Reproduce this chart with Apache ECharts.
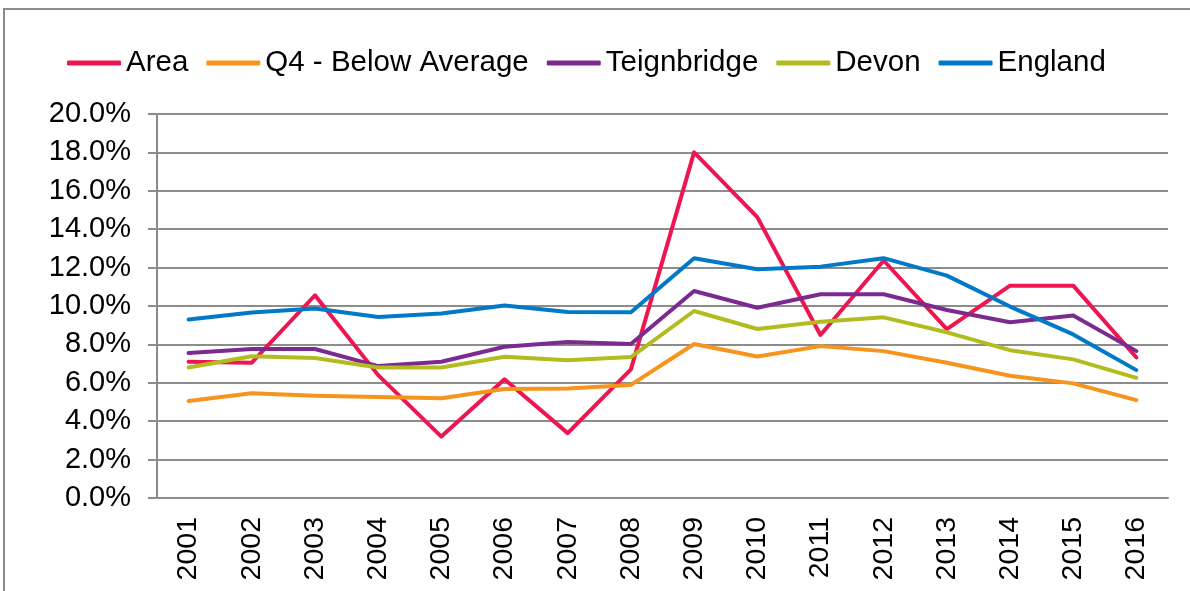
<!DOCTYPE html>
<html>
<head>
<meta charset="utf-8">
<script src="https://cdn.jsdelivr.net/npm/echarts@6/dist/echarts.min.js"></script>
<style>
  html, body { margin: 0; padding: 0; background: #fff; }
  #chart { width: 1190px; height: 591px; }
</style>
</head>
<body>
<div id="chart"></div>
<script>
var years = ['2001', '2002', '2003', '2004', '2005', '2006', '2007', '2008',
  '2009', '2010', '2011', '2012', '2013', '2014', '2015', '2016'];

// values in percent
var area = [7.1, 7.05, 10.56, 6.4, 3.2, 6.18, 3.38, 6.7,
  18.0, 14.63, 8.49, 12.37, 8.8, 11.06, 11.06, 7.32];
var q4 = [5.05, 5.45, 5.33, 5.26, 5.19, 5.68, 5.7, 5.89,
  8.02, 7.37, 7.91, 7.65, 7.04, 6.37, 5.97, 5.1];
var teignbridge = [7.55, 7.76, 7.76, 6.87, 7.1, 7.88, 8.12, 8.02,
  10.78, 9.91, 10.61, 10.61, 9.79, 9.15, 9.51, 7.65];
var devon = [6.8, 7.38, 7.29, 6.8, 6.8, 7.36, 7.17, 7.34,
  9.74, 8.8, 9.18, 9.41, 8.63, 7.7, 7.22, 6.26];
var england = [9.3, 9.66, 9.87, 9.43, 9.61, 10.03, 9.69, 9.67,
  12.49, 11.91, 12.05, 12.49, 11.58, 9.97, 8.52, 6.66];

var font = '"Liberation Sans", Arial, sans-serif';

function lineSeries(name, data, color) {
  return {
    name: name,
    type: 'line',
    data: data,
    symbol: 'none',
    color: color,
    lineStyle: {width: 4, color: color, cap: 'round', join: 'round'},
  };
}

var chart = echarts.init(document.getElementById('chart'));
chart.setOption({
  animation: false,
  graphic: [{
    type: 'rect',
    shape: {x: 4, y: 9, width: 1210, height: 620},
    style: {fill: 'none', stroke: '#8c8c8c', lineWidth: 2},
    silent: true,
  }],
  legend: {
    left: 62,
    top: 43,
    itemWidth: 54,
    itemHeight: 5,
    itemGap: 18,
    icon: 'roundRect',
    textStyle: {fontFamily: font, fontSize: 29.5, color: '#000'},
    data: ['Area', 'Q4 - Below Average', 'Teignbridge', 'Devon', 'England'],
  },
  grid: {left: 157, right: 22, top: 114, bottom: 93},
  xAxis: {
    type: 'category',
    data: years,
    boundaryGap: true,
    axisLine: {lineStyle: {color: '#8c8c8c', width: 2}},
    axisTick: {length: 9, lineStyle: {color: '#8c8c8c', width: 2}},
    axisLabel: {
      rotate: 90, margin: 19, interval: 0,
      fontFamily: font, fontSize: 28.5, color: '#000',
    },
  },
  yAxis: {
    type: 'value',
    min: 0,
    max: 20,
    interval: 2,
    axisLine: {show: true, lineStyle: {color: '#8c8c8c', width: 2}},
    axisTick: {show: true, length: 9, lineStyle: {color: '#8c8c8c', width: 2}},
    splitLine: {lineStyle: {color: '#8c8c8c', width: 2}},
    axisLabel: {
      margin: 26,
      fontFamily: font, fontSize: 29, color: '#000',
      formatter: function(v) { return v.toFixed(1) + '%'; },
    },
  },
  series: [
    lineSeries('Area', area, '#ed1651'),
    lineSeries('Q4 - Below Average', q4, '#f7941d'),
    lineSeries('Teignbridge', teignbridge, '#7d2a90'),
    lineSeries('Devon', devon, '#b3bc1f'),
    lineSeries('England', england, '#0079c9'),
  ],
});
</script>
</body>
</html>
